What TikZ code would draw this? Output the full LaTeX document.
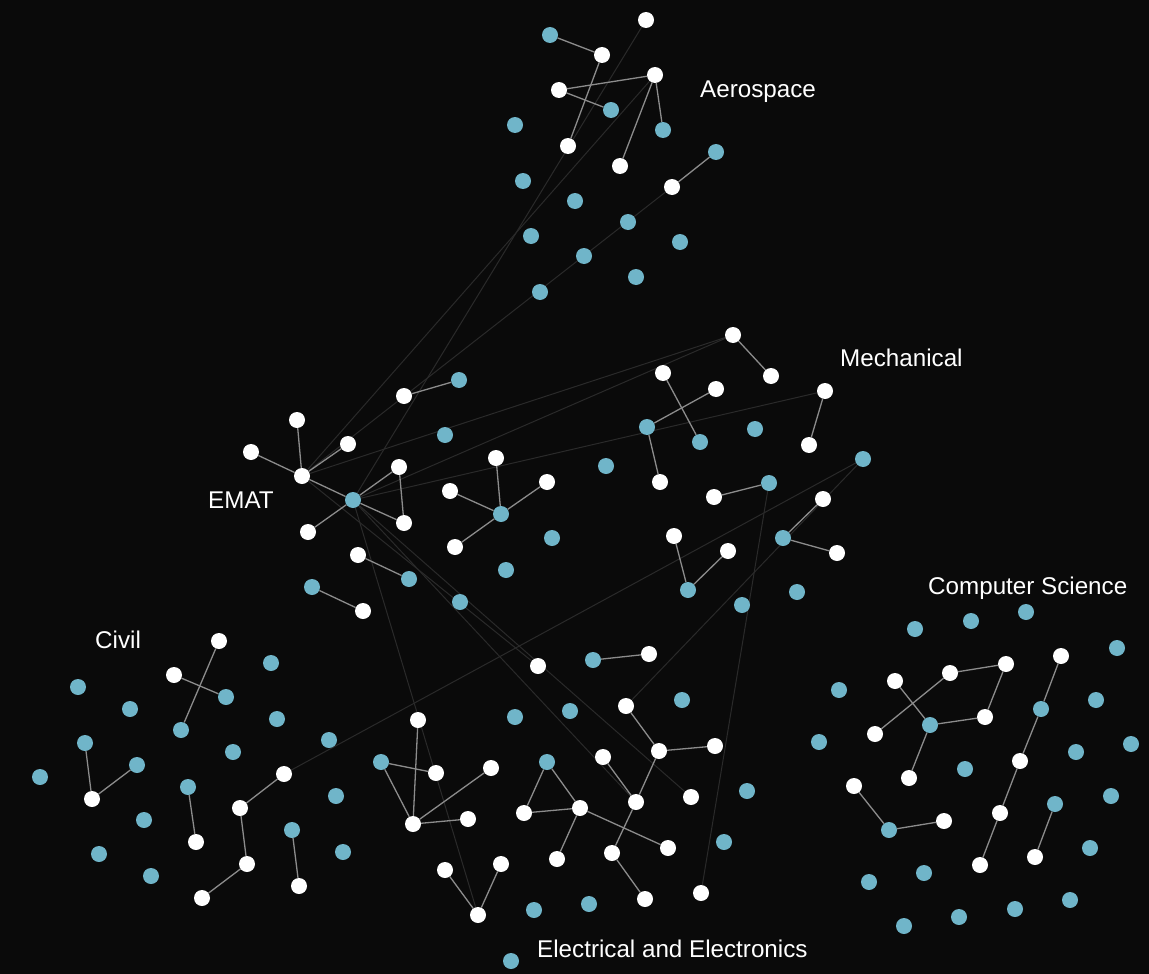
\documentclass[tikz,border=0pt]{standalone}
\usepackage{fontspec}
\setmainfont{Liberation Sans}
\pgfdeclarelayer{bg}
\pgfdeclarelayer{back}
\pgfsetlayers{back,bg,main}
\definecolor{bgc}{HTML}{0A0A0A}
\definecolor{teal}{HTML}{70B5C9}
\definecolor{edgec}{HTML}{8C8C8C}
\definecolor{faintc}{HTML}{2A2A2A}
\begin{document}
\begin{tikzpicture}[x=1pt,y=-1pt,
  wn/.style={circle,fill=white,draw=none,minimum size=16pt,inner sep=0pt},
  bn/.style={circle,fill=teal,draw=none,minimum size=16pt,inner sep=0pt},
  lbl/.style={text=white,inner sep=0pt,anchor=base west,font=\fontsize{24.2}{29}\selectfont},
  ed/.style={draw=edgec,line width=1.3pt},
  fe/.style={draw=faintc,line width=1pt}]
\begin{pgfonlayer}{back}
\fill[bgc] (0,0) rectangle (1149,974);
\end{pgfonlayer}
\useasboundingbox (0,0) rectangle (1149,974);
% Aerospace
\node[wn] (A1) at (646,20) {};
\node[bn] (A2) at (550,35) {};
\node[wn] (A3) at (602,55) {};
\node[wn] (A4) at (655,75) {};
\node[wn] (A5) at (559,90) {};
\node[bn] (A6) at (611,110) {};
\node[bn] (A7) at (515,125) {};
\node[bn] (A8) at (663,130) {};
\node[wn] (A9) at (568,146) {};
\node[wn] (A10) at (620,166) {};
\node[bn] (A11) at (716,152) {};
\node[wn] (A12) at (672,187) {};
\node[bn] (A13) at (523,181) {};
\node[bn] (A14) at (575,201) {};
\node[bn] (A15) at (628,222) {};
\node[bn] (A16) at (531,236) {};
\node[bn] (A17) at (584,256) {};
\node[bn] (A18) at (680,242) {};
\node[bn] (A19) at (636,277) {};
\node[bn] (A20) at (540,292) {};
% Mechanical
\node[wn] (M1) at (733,335) {};
\node[wn] (M2) at (771,376) {};
\node[wn] (M3) at (663,373) {};
\node[wn] (M4) at (716,389) {};
\node[wn] (M5) at (825,391) {};
\node[bn] (M6) at (647,427) {};
\node[bn] (M7) at (700,442) {};
\node[bn] (M8) at (755,429) {};
\node[wn] (M9) at (809,445) {};
\node[bn] (M10) at (606,466) {};
\node[bn] (M11) at (863,459) {};
\node[wn] (M12) at (660,482) {};
\node[wn] (M13) at (714,497) {};
\node[bn] (M14) at (769,483) {};
\node[wn] (M15) at (823,499) {};
\node[wn] (M16) at (674,536) {};
\node[wn] (M17) at (728,551) {};
\node[bn] (M18) at (783,538) {};
\node[wn] (M19) at (837,553) {};
\node[bn] (M20) at (688,590) {};
\node[bn] (M21) at (797,592) {};
\node[bn] (M22) at (742,605) {};
% EMAT
\node[wn] (E1) at (404,396) {};
\node[bn] (E2) at (459,380) {};
\node[wn] (E3) at (297,420) {};
\node[wn] (E4) at (348,444) {};
\node[bn] (E5) at (445,435) {};
\node[wn] (E6) at (251,452) {};
\node[wn] (E7) at (302,476) {};
\node[wn] (E8) at (399,467) {};
\node[wn] (E9) at (496,458) {};
\node[bn] (E10) at (353,500) {};
\node[wn] (E11) at (450,491) {};
\node[wn] (E12) at (547,482) {};
\node[wn] (E13) at (404,523) {};
\node[bn] (E14) at (501,514) {};
\node[wn] (E15) at (308,532) {};
\node[wn] (E16) at (455,547) {};
\node[bn] (E17) at (552,538) {};
\node[wn] (E18) at (358,555) {};
\node[bn] (E19) at (409,579) {};
\node[bn] (E20) at (506,570) {};
\node[bn] (E21) at (312,587) {};
\node[wn] (E22) at (363,611) {};
\node[bn] (E23) at (460,602) {};
% Civil
\node[wn] (C1) at (219,641) {};
\node[bn] (C2) at (271,663) {};
\node[wn] (C3) at (174,675) {};
\node[bn] (C4) at (78,687) {};
\node[bn] (C5) at (226,697) {};
\node[bn] (C6) at (130,709) {};
\node[bn] (C7) at (277,719) {};
\node[bn] (C8) at (181,730) {};
\node[bn] (C9) at (329,740) {};
\node[bn] (C10) at (85,743) {};
\node[bn] (C11) at (233,752) {};
\node[bn] (C12) at (137,765) {};
\node[wn] (C13) at (284,774) {};
\node[bn] (C14) at (40,777) {};
\node[bn] (C15) at (188,787) {};
\node[bn] (C16) at (336,796) {};
\node[wn] (C17) at (92,799) {};
\node[wn] (C18) at (240,808) {};
\node[bn] (C19) at (144,820) {};
\node[bn] (C20) at (292,830) {};
\node[wn] (C21) at (196,842) {};
\node[bn] (C22) at (99,854) {};
\node[wn] (C23) at (247,864) {};
\node[bn] (C24) at (343,852) {};
\node[bn] (C25) at (151,876) {};
\node[wn] (C26) at (299,886) {};
\node[wn] (C27) at (202,898) {};
% Electrical
\node[wn] (L1) at (538,666) {};
\node[bn] (L2) at (593,660) {};
\node[wn] (L3) at (649,654) {};
\node[bn] (L4) at (682,700) {};
\node[bn] (L5) at (515,717) {};
\node[bn] (L6) at (570,711) {};
\node[wn] (L7) at (626,706) {};
\node[wn] (L8) at (418,720) {};
\node[bn] (L9) at (381,762) {};
\node[wn] (L10) at (436,773) {};
\node[wn] (L11) at (491,768) {};
\node[bn] (L12) at (547,762) {};
\node[wn] (L13) at (603,757) {};
\node[wn] (L14) at (659,751) {};
\node[wn] (L15) at (715,746) {};
\node[wn] (L16) at (413,824) {};
\node[wn] (L17) at (468,819) {};
\node[wn] (L18) at (524,813) {};
\node[wn] (L19) at (580,808) {};
\node[wn] (L20) at (636,802) {};
\node[wn] (L21) at (691,797) {};
\node[bn] (L22) at (747,791) {};
\node[wn] (L23) at (445,870) {};
\node[wn] (L24) at (501,864) {};
\node[wn] (L25) at (557,859) {};
\node[wn] (L26) at (612,853) {};
\node[wn] (L27) at (668,848) {};
\node[bn] (L28) at (724,842) {};
\node[wn] (L29) at (478,915) {};
\node[bn] (L30) at (534,910) {};
\node[bn] (L31) at (589,904) {};
\node[wn] (L32) at (645,899) {};
\node[wn] (L33) at (701,893) {};
\node[bn] (L34) at (511,961) {};
% Computer Science
\node[bn] (S1) at (915,629) {};
\node[bn] (S2) at (971,621) {};
\node[bn] (S3) at (1026,612) {};
\node[bn] (S4) at (1117,648) {};
\node[wn] (S5) at (1061,656) {};
\node[wn] (S6) at (1006,664) {};
\node[wn] (S7) at (950,673) {};
\node[wn] (S8) at (895,681) {};
\node[bn] (S9) at (839,690) {};
\node[bn] (S10) at (1096,700) {};
\node[bn] (S11) at (1041,709) {};
\node[wn] (S12) at (985,717) {};
\node[bn] (S13) at (930,725) {};
\node[wn] (S14) at (875,734) {};
\node[bn] (S15) at (819,742) {};
\node[bn] (S16) at (1131,744) {};
\node[bn] (S17) at (1076,752) {};
\node[wn] (S18) at (1020,761) {};
\node[bn] (S19) at (965,769) {};
\node[wn] (S20) at (909,778) {};
\node[wn] (S21) at (854,786) {};
\node[bn] (S22) at (1111,796) {};
\node[bn] (S23) at (1055,804) {};
\node[wn] (S24) at (1000,813) {};
\node[wn] (S25) at (944,821) {};
\node[bn] (S26) at (889,830) {};
\node[bn] (S27) at (1090,848) {};
\node[wn] (S28) at (1035,857) {};
\node[wn] (S29) at (980,865) {};
\node[bn] (S30) at (924,873) {};
\node[bn] (S31) at (869,882) {};
\node[bn] (S32) at (1070,900) {};
\node[bn] (S33) at (1015,909) {};
\node[bn] (S34) at (959,917) {};
\node[bn] (S35) at (904,926) {};
% labels
\node[lbl] (tA) at (700,97) {Aerospace};
\node[lbl] (tM) at (840,366) {Mechanical};
\node[lbl] (tE) at (208,508) {EMAT};
\node[lbl] (tC) at (95,648) {Civil};
\node[lbl] (tS) at (928,594) {Computer Science};
\node[lbl] (tL) at (537,957) {Electrical and Electronics};
\begin{pgfonlayer}{bg}
% faint long edges
\draw[fe] (A1) -- (E10);
\draw[fe] (A4) -- (E7);
\draw[fe] (A12) -- (E7);
\draw[fe] (M1) -- (E7);
\draw[fe] (M1) -- (E10);
\draw[fe] (M5) -- (E10);
\draw[fe] (M11) -- (C13);
\draw[fe] (M11) -- (L7);
\draw[fe] (M14) -- (L33);
\draw[fe] (E10) -- (L29);
\draw[fe] (E10) -- (L20);
\draw[fe] (E10) -- (L21);
\draw[fe] (E7) -- (L1);
% Aerospace
\draw[ed] (A2) -- (A3);
\draw[ed] (A3) -- (A9);
\draw[ed] (A5) -- (A4);
\draw[ed] (A5) -- (A6);
\draw[ed] (A4) -- (A8);
\draw[ed] (A4) -- (A10);
\draw[ed] (A12) -- (A11);
% Mechanical
\draw[ed] (M1) -- (M2);
\draw[ed] (M3) -- (M7);
\draw[ed] (M4) -- (M6);
\draw[ed] (M6) -- (M12);
\draw[ed] (M5) -- (M9);
\draw[ed] (M13) -- (M14);
\draw[ed] (M15) -- (M18);
\draw[ed] (M18) -- (M19);
\draw[ed] (M16) -- (M20);
\draw[ed] (M17) -- (M20);
% EMAT
\draw[ed] (E1) -- (E2);
\draw[ed] (E3) -- (E7);
\draw[ed] (E6) -- (E7);
\draw[ed] (E4) -- (E7);
\draw[ed] (E7) -- (E10);
\draw[ed] (E10) -- (E8);
\draw[ed] (E8) -- (E13);
\draw[ed] (E10) -- (E13);
\draw[ed] (E10) -- (E15);
\draw[ed] (E9) -- (E14);
\draw[ed] (E11) -- (E14);
\draw[ed] (E12) -- (E14);
\draw[ed] (E14) -- (E16);
\draw[ed] (E18) -- (E19);
\draw[ed] (E21) -- (E22);
% Civil
\draw[ed] (C1) -- (C8);
\draw[ed] (C3) -- (C5);
\draw[ed] (C10) -- (C17);
\draw[ed] (C12) -- (C17);
\draw[ed] (C13) -- (C18);
\draw[ed] (C18) -- (C23);
\draw[ed] (C23) -- (C27);
\draw[ed] (C15) -- (C21);
\draw[ed] (C20) -- (C26);
% Electrical
\draw[ed] (L2) -- (L3);
\draw[ed] (L7) -- (L14);
\draw[ed] (L14) -- (L15);
\draw[ed] (L14) -- (L20);
\draw[ed] (L13) -- (L20);
\draw[ed] (L20) -- (L26);
\draw[ed] (L26) -- (L32);
\draw[ed] (L12) -- (L18);
\draw[ed] (L12) -- (L19);
\draw[ed] (L18) -- (L19);
\draw[ed] (L19) -- (L25);
\draw[ed] (L19) -- (L27);
\draw[ed] (L9) -- (L10);
\draw[ed] (L9) -- (L16);
\draw[ed] (L8) -- (L16);
\draw[ed] (L16) -- (L17);
\draw[ed] (L16) -- (L11);
\draw[ed] (L23) -- (L29);
\draw[ed] (L24) -- (L29);
% Computer Science
\draw[ed] (S7) -- (S6);
\draw[ed] (S7) -- (S14);
\draw[ed] (S8) -- (S13);
\draw[ed] (S13) -- (S12);
\draw[ed] (S12) -- (S6);
\draw[ed] (S13) -- (S20);
\draw[ed] (S21) -- (S26);
\draw[ed] (S26) -- (S25);
\draw[ed] (S5) -- (S11);
\draw[ed] (S11) -- (S18);
\draw[ed] (S18) -- (S24);
\draw[ed] (S24) -- (S29);
\draw[ed] (S23) -- (S28);
\end{pgfonlayer}
\end{tikzpicture}
\end{document}
